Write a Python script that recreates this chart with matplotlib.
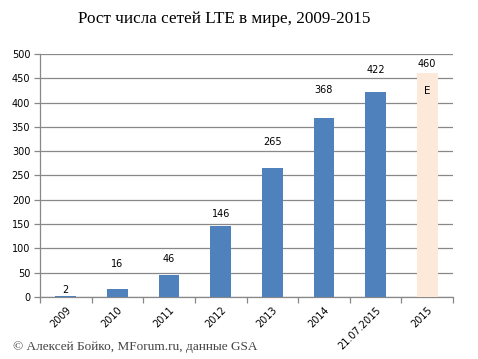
"""Рост числа сетей LTE в мире, 2009-2015 — столбчатая диаграмма в стиле Excel."""
import matplotlib
matplotlib.use("Agg")
import matplotlib.pyplot as plt
import numpy as np

categories = ["2009", "2010", "2011", "2012", "2013", "2014", "21.07.2015", "2015"]
networks = [2, 16, 46, 146, 265, 368, 422, 460]
is_estimate = [False, False, False, False, False, False, False, True]

# сдвиг подписей над столбцами (pt) — в оригинале подписи расставлены вручную
label_offsets = [4, 18, 11, 9, 19, 20, 16, 7]

BLUE = "#4f81bd"
PEACH = "#fde9d9"
GRID = "#888888"

fig = plt.figure(figsize=(4.78, 3.59), dpi=100)
ax = fig.add_axes([0.0837, 0.1727, 0.864, 0.677])

x = np.arange(len(categories))
colors = [PEACH if e else BLUE for e in is_estimate]
ax.bar(x, networks, width=0.4, color=colors, zorder=3)

for xi, v, off in zip(x, networks, label_offsets):
    ax.annotate(str(v), xy=(xi, v), xytext=(0, off), textcoords="offset points",
                ha="center", va="center", fontsize=7, family="DejaVu Sans")

# метка прогноза внутри последнего столбца
ax.annotate("E", xy=(x[-1], networks[-1]), xytext=(0, -13), textcoords="offset points",
            ha="center", va="center", fontsize=7.5, family="DejaVu Sans")

ax.set_xlim(-0.5, len(categories) - 0.5)
ax.set_ylim(0, 500)
ax.set_yticks(np.arange(0, 501, 50))
ax.yaxis.grid(True, color=GRID, linewidth=0.9, zorder=0)
ax.set_axisbelow(True)

ax.set_xticks(x)
ax.set_xticklabels(categories, rotation=45, ha="right", rotation_mode="anchor",
                   fontsize=7, family="DejaVu Sans")
ax.set_xticks(np.arange(-0.5, len(categories), 1), minor=True)
ax.tick_params(axis="x", which="major", length=0, pad=6)
ax.tick_params(axis="x", which="minor", length=4, color=GRID, width=0.9)
ax.tick_params(axis="y", length=4, color=GRID, width=0.9, labelsize=7, pad=3)
for lab in ax.get_yticklabels():
    lab.set_family("DejaVu Sans")

for s in ["top", "right"]:
    ax.spines[s].set_visible(False)
for s in ["left", "bottom"]:
    ax.spines[s].set_color(GRID)
    ax.spines[s].set_linewidth(0.9)

fig.text(0.468, 0.948, "Рост числа сетей LTE в мире, 2009-2015",
         ha="center", va="center", fontsize=12.3, family="Liberation Serif")
fig.text(0.027, 0.033, "© Алексей Бойко, MForum.ru, данные GSA",
         ha="left", va="center", fontsize=9.5, family="Liberation Serif", color="#444444")

fig.savefig("out.png", dpi=100)
